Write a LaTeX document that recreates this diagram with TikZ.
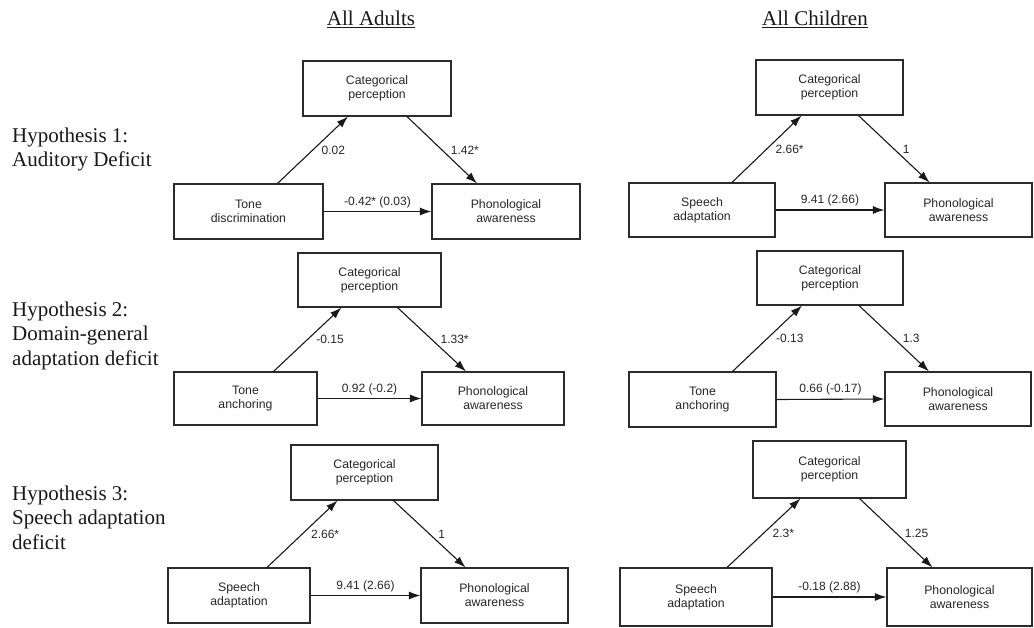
\documentclass[tikz,border=0pt]{standalone}
\usepackage{fontspec}
\setmainfont{Liberation Serif}
\setsansfont{Liberation Sans}
\usetikzlibrary{arrows.meta}

\definecolor{boxline}{HTML}{2B2B2B}
\tikzstyle{box} = [draw=boxline, line width=1.1pt, align=center, inner sep=0pt, text=black!85,
    font=\sffamily\fontsize{12.3}{14}\selectfont]
\tikzstyle{link} = [draw=black!90, line width=1.1pt, -{Latex[length=11.5pt,width=8pt]}]
\tikzstyle{coef} = [text=black!85, font=\sffamily\fontsize{12}{14}\selectfont]
\tikzstyle{hyp} = [anchor=west, align=left, inner sep=0pt, text=black!90, font=\fontsize{21}{24.5}\selectfont]
\tikzstyle{group} = [text=black!90, font=\fontsize{21}{24}\selectfont]

\begin{document}
\begin{tikzpicture}[x=1pt, y=-1pt]
\useasboundingbox (0,0) rectangle (1034,627);

% column titles
\node[group] (adults) at (371,19) {\underline{All Adults}};
\node[group] (children) at (815,19) {\underline{All Children}};

% hypotheses
\node[hyp] (hyp1) at (12,149.5) {Hypothesis 1:\\Auditory Deficit};
\node[hyp] (hyp2) at (12,335.5) {Hypothesis 2:\\Domain-general\\adaptation deficit};
\node[hyp] (hyp3) at (12,517.5) {Hypothesis 3:\\Speech adaptation\\deficit};

% adults, hypothesis 1
\node[box, minimum width=148pt, minimum height=55pt] (a1cat) at (377,88.5) {Categorical\\perception};
\node[box, minimum width=149pt, minimum height=55pt] (a1tone) at (248.5,211.5) {Tone\\discrimination};
\node[box, minimum width=148pt, minimum height=55pt] (a1phon) at (506,211.5) {Phonological\\awareness};
\draw[link] ([xshift=29pt]a1tone.north) -- node[coef, right, xshift=5pt] {0.02} ([xshift=-29pt]a1cat.south);
\draw[link] ([xshift=30pt]a1cat.south) -- node[coef, right, xshift=5pt] {1.42*} ([xshift=-29pt]a1phon.north);
\draw[link] (a1tone.east) -- node[coef, above] {-0.42* (0.03)} (a1phon.west);

% adults, hypothesis 2
\node[box, minimum width=143pt, minimum height=54pt] (a2cat) at (369.5,280) {Categorical\\perception};
\node[box, minimum width=143pt, minimum height=53pt] (a2tone) at (245.5,398.5) {Tone\\anchoring};
\node[box, minimum width=142pt, minimum height=53pt] (a2phon) at (493,398.5) {Phonological\\awareness};
\draw[link] ([xshift=28pt]a2tone.north) -- node[coef, right, xshift=5pt] {-0.15} ([xshift=-28pt]a2cat.south);
\draw[link] ([xshift=28pt]a2cat.south) -- node[coef, right, xshift=5pt] {1.33*} ([xshift=-27pt]a2phon.north);
\draw[link] (a2tone.east) -- node[coef, above] {0.92 (-0.2)} (a2phon.west);

% adults, hypothesis 3
\node[box, minimum width=147pt, minimum height=55pt] (a3cat) at (364.5,472.5) {Categorical\\perception};
\node[box, minimum width=142pt, minimum height=55pt] (a3speech) at (239,595.5) {Speech\\adaptation};
\node[box, minimum width=147pt, minimum height=55pt] (a3phon) at (494.5,595.5) {Phonological\\awareness};
\draw[link] ([xshift=28pt]a3speech.north) -- node[coef, right, xshift=5pt] {2.66*} ([xshift=-27pt]a3cat.south);
\draw[link] ([xshift=29pt]a3cat.south) -- node[coef, right, xshift=5pt] {1} ([xshift=-29pt]a3phon.north);
\draw[link] (a3speech.east) -- node[coef, above] {9.41 (2.66)} (a3phon.west);

% children, hypothesis 1
\node[box, minimum width=147pt, minimum height=55pt] (c1cat) at (829.5,87.5) {Categorical\\perception};
\node[box, minimum width=146pt, minimum height=54pt] (c1speech) at (702,210) {Speech\\adaptation};
\node[box, minimum width=147pt, minimum height=54pt] (c1phon) at (958.5,210) {Phonological\\awareness};
\draw[link] ([xshift=30pt]c1speech.north) -- node[coef, right, xshift=5pt] {2.66*} ([xshift=-28pt]c1cat.south);
\draw[link] ([xshift=29pt]c1cat.south) -- node[coef, right, xshift=5pt] {1} ([xshift=-29pt]c1phon.north);
\draw[link] (c1speech.east) -- node[coef, above] {9.41 (2.66)} (c1phon.west);

% children, hypothesis 2
\node[box, minimum width=146pt, minimum height=54pt] (c2cat) at (830,278) {Categorical\\perception};
\node[box, minimum width=147pt, minimum height=55pt] (c2tone) at (702.5,399.5) {Tone\\anchoring};
\node[box, minimum width=146pt, minimum height=54pt] (c2phon) at (958,399) {Phonological\\awareness};
\draw[link] ([xshift=30pt]c2tone.north) -- node[coef, right, xshift=5pt] {-0.13} ([xshift=-28pt]c2cat.south);
\draw[link] ([xshift=29pt]c2cat.south) -- node[coef, right, xshift=5pt] {1.3} ([xshift=-29pt]c2phon.north);
\draw[link] (c2tone.east) -- node[coef, above] {0.66 (-0.17)} (c2phon.west);

% children, hypothesis 3
\node[box, minimum width=153pt, minimum height=57pt] (c3cat) at (829.5,469.5) {Categorical\\perception};
\node[box, minimum width=152pt, minimum height=58pt] (c3speech) at (696,597) {Speech\\adaptation};
\node[box, minimum width=145pt, minimum height=58pt] (c3phon) at (959.5,597) {Phonological\\awareness};
\draw[link] ([xshift=31pt]c3speech.north) -- node[coef, right, xshift=5pt] {2.3*} ([xshift=-29pt]c3cat.south);
\draw[link] ([xshift=30pt]c3cat.south) -- node[coef, right, xshift=5pt] {1.25} ([xshift=-27pt]c3phon.north);
\draw[link] (c3speech.east) -- node[coef, above] {-0.18 (2.88)} (c3phon.west);
\end{tikzpicture}
\end{document}
